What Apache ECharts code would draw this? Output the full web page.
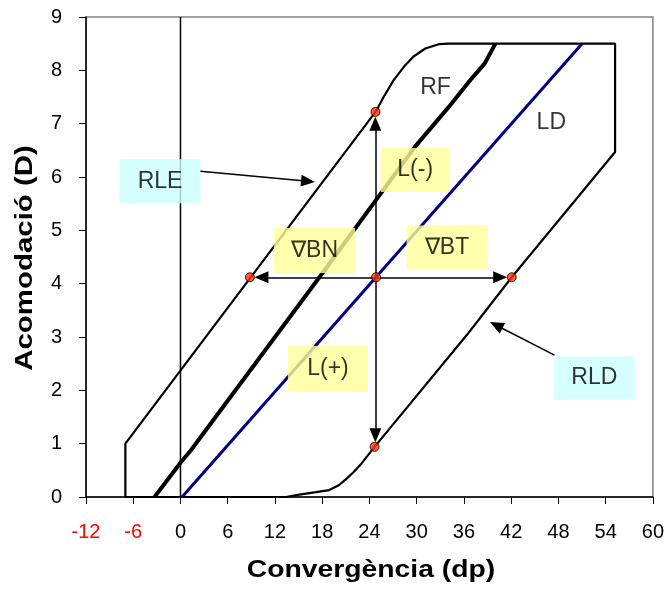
<!DOCTYPE html>
<html><head><meta charset="utf-8">
<script src="https://cdn.jsdelivr.net/npm/echarts@6/dist/echarts.min.js"></script>
<style>html,body{margin:0;padding:0;background:#fff}#c{width:667px;height:592px}</style>
</head><body><div id="c"></div>
<script>
// ---- data ----
const xRange = [-12, 60, 6];
const yRange = [0, 9, 1];
const xTitle = 'Convergència (dp)';
const yTitle = 'Acomodació (D)';
// outer zone (RLE / RLD boundaries)
const zoneOutline = [[-7,0],[-7,1],[8.82,4.1],[24.77,7.22],[25.8,7.5],[27.1,7.82],[28.4,8.07],[29.6,8.26],[31.1,8.41],[32.8,8.49],[34,8.5],[55.2,8.5],[55.2,6.47],[42.07,4.12],[36.6,3.08],[24.65,0.94],[23,0.63],[22,0.47],[21,0.33],[20.1,0.22],[18.9,0.13],[17.2,0.09],[15.1,0.045],[13.4,0],[-7,0]];
// RF (thick line)
const rfLine = [[-3.3,0],[0.1,0.66],[1.35,0.88],[18,4.19],[29.8,6.57],[34,7.3],[37,7.85],[38.6,8.12],[40,8.5]];
// LD (Donders line)
const ldLine = [[0.2,0],[51,8.5]];
// vertical line at x = 0
const zeroLine = [[0,0],[0,9]];
// highlighted points
const keyPoints = [[8.82,4.12],[24.85,4.12],[42.07,4.12],[24.77,7.22],[24.65,0.94]];
// arrows [from, to]
const arrows = [
  [[24.85,4.12],[10.28,4.12]],
  [[24.85,4.12],[40.61,4.12]],
  [[24.75,4.12],[24.75,7.0]],
  [[24.75,4.12],[24.75,1.16]],
  [[2.53,6.11],[16.2,5.92]],
  [[47.5,2.66],[40.1,3.22]]
];
// labelled boxes
const boxes = [
  {name:'RLE', pos:[-2.59,5.92], bg:'#CCFFFF', w:81, h:44},
  {name:'\u2207BN', pos:[17.03,4.62], bg:'#FFFF99', w:81, h:45},
  {name:'\u2207BT', pos:[33.86,4.68], bg:'#FFFF99', w:81, h:44},
  {name:'L(-)', pos:[29.81,6.13], bg:'#FFFF99', w:69, h:44},
  {name:'L(+)', pos:[18.73,2.41], bg:'#FFFF99', w:80, h:45},
  {name:'RLD', pos:[52.57,2.23], bg:'#CCFFFF', w:81, h:43}
];
const plainLabels = [
  {name:'RF', pos:[32.4,7.67]},
  {name:'LD', pos:[47.1,7.02]}
];

const FONT = 'Arial, "Liberation Sans", sans-serif';
const chart = echarts.init(document.getElementById('c'), null, {renderer:'canvas'});

const boxData = boxes.map(b => ({
  value: b.pos, name: b.name,
  label: {show:true, position:'inside', formatter:b.name, backgroundColor:b.bg,
    width:b.w, height:b.h, lineHeight:b.h, align:'center', verticalAlign:'middle',
    color:'#000', fontSize:23, fontFamily:FONT}
}));
const textData = plainLabels.map(t => ({
  value: t.pos, name: t.name,
  label: {show:true, position:'inside', formatter:t.name, color:'#000', fontSize:23, fontFamily:FONT}
}));

chart.setOption({
  animation: false,
  backgroundColor: '#fff',
  grid: {left:86, right:12, top:17, bottom:95, show:true, borderColor:'#808080', borderWidth:1.5, backgroundColor:'transparent'},
  graphic: [
    {type:'text', x:371, y:571, scaleX:1.23, scaleY:1, z:10,
     style:{text:xTitle, font:'bold 23px Arial, "Liberation Sans", sans-serif', fill:'#000',
       textAlign:'center', textVerticalAlign:'middle', align:'center', verticalAlign:'middle'}},
    {type:'text', x:26, y:258, rotation:Math.PI/2, scaleX:1.28, scaleY:1, z:10,
     style:{text:yTitle, font:'bold 23px Arial, "Liberation Sans", sans-serif', fill:'#000',
       textAlign:'center', textVerticalAlign:'middle', align:'center', verticalAlign:'middle'}}
  ],
  xAxis: {
    type:'value', min:xRange[0], max:xRange[1], interval:xRange[2],
    axisLine:{onZero:false, lineStyle:{color:'#000', width:1.5}},
    axisTick:{inside:false, length:7, lineStyle:{color:'#000', width:1}},
    splitLine:{show:false},
    axisLabel:{margin:25, fontSize:20, fontFamily:FONT,
      formatter: v => (v < 0 ? '{neg|' + v + '}' : '{pos|' + v + '}'),
      rich:{neg:{color:'#FF0000', fontSize:20, fontFamily:FONT}, pos:{color:'#000', fontSize:20, fontFamily:FONT}}}
  },
  yAxis: {
    type:'value', min:yRange[0], max:yRange[1], interval:yRange[2],
    axisLine:{onZero:false, lineStyle:{color:'#000', width:1.5}},
    axisTick:{inside:false, length:7, lineStyle:{color:'#000', width:1}},
    splitLine:{show:false},
    axisLabel:{margin:24, fontSize:20, color:'#000', fontFamily:FONT}
  },
  series: [
    {type:'line', data:zeroLine, showSymbol:false, lineStyle:{color:'#000', width:1.5}, z:2,
     markLine:{silent:true, symbol:['none','triangle'], symbolSize:[12,14], label:{show:false},
       lineStyle:{color:'#000', width:1.5, type:'solid'}, emphasis:{disabled:true},
       data: arrows.map(a => [{coord:a[0]},{coord:a[1]}])}},
    {type:'line', data:zoneOutline, showSymbol:false, lineStyle:{color:'#000', width:2.2}, z:3},
    {type:'line', data:rfLine, showSymbol:false, lineStyle:{color:'#000', width:4}, z:3},
    {type:'line', data:ldLine, showSymbol:false, lineStyle:{color:'#000080', width:3}, z:3},
    {type:'scatter', data:boxData, symbolSize:1, itemStyle:{color:'rgba(0,0,0,0)'}, z:4},
    {type:'scatter', data:textData, symbolSize:1, itemStyle:{color:'rgba(0,0,0,0)'}, z:4},
    {type:'scatter', data:keyPoints, symbolSize:9, itemStyle:{color:'#FF3300', borderColor:'#000', borderWidth:1}, z:6}
  ]
});
</script>
</body></html>
